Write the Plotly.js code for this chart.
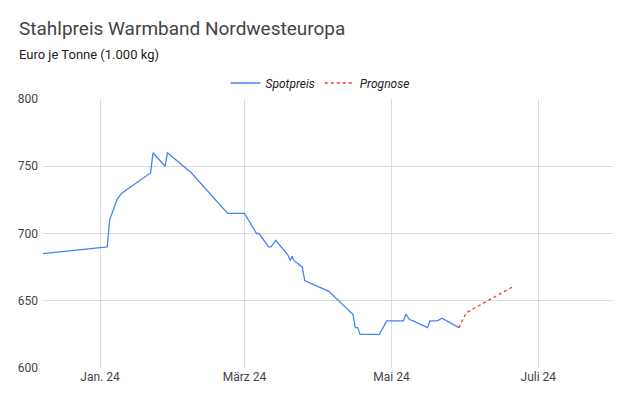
<!DOCTYPE html>
<html>
<head>
<meta charset="utf-8">
<script src="https://cdn.plot.ly/plotly-3.0.1.min.js"></script>
<style>html,body{margin:0;padding:0;background:#fff;}#chart{width:640px;height:396px;}</style>
</head>
<body>
<div id="chart"></div>
<script>
const spotDates = ['2023-12-08','2024-01-04','2024-01-05','2024-01-08','2024-01-10','2024-01-22','2024-01-23','2024-01-28','2024-01-29','2024-02-08','2024-02-23','2024-03-01','2024-03-06','2024-03-07','2024-03-11','2024-03-12','2024-03-14','2024-03-19','2024-03-20','2024-03-20 18:00','2024-03-21 12:00','2024-03-25','2024-03-26','2024-04-05','2024-04-15','2024-04-16','2024-04-17','2024-04-18','2024-04-26','2024-04-29','2024-05-06','2024-05-07','2024-05-08 12:00','2024-05-10','2024-05-16','2024-05-17','2024-05-20','2024-05-22','2024-05-29'];
const spotValues = [685,690,710,725,730,745,760,750,760,745,715,715,700,700,690,690,695,684,680,683,680,675,665,657,640,630,630,625,625,635,635,640,636,635,630,635,635,637,630];
const progDates = ['2024-05-29','2024-06-01','2024-06-10','2024-06-20'];
const progValues = [630,641,650,660];
const tickDates = ['2024-01-01','2024-03-01','2024-05-01','2024-07-01'];
const tickLabels = ['Jan. 24','März 24','Mai 24','Juli 24'];
const yTicks = [600,650,700,750,800];

const traces = [
  {x: spotDates, y: spotValues, name: 'Spotpreis', type: 'scatter', mode: 'lines',
   line: {color: '#4285f4', width: 1.3}},
  {x: progDates, y: progValues, name: 'Prognose', type: 'scatter', mode: 'lines',
   line: {color: '#ee3a2c', width: 1.3, dash: 'dot'}}
];
const layout = {
  width: 640, height: 396,
  margin: {l: 43, r: 27, t: 99, b: 28},
  paper_bgcolor: '#fff', plot_bgcolor: '#fff',
  font: {family: 'Roboto, Arial, sans-serif', size: 12, color: '#444'},
  showlegend: true,
  legend: {orientation: 'h', xref: 'container', x: 0.5, xanchor: 'center',
           yref: 'container', y: 1 - 83/396, yanchor: 'middle',
           font: {family: 'Roboto, Arial, sans-serif', size: 12, color: '#222', style: 'italic'},
           itemwidth: 30, tracegroupgap: 0},
  title: {text: 'Stahlpreis Warmband Nordwesteuropa', xref: 'container', x: 19/640, xanchor: 'left',
          yref: 'container', y: 1 - 28/396, yanchor: 'middle',
          font: {family: 'Roboto, Arial, sans-serif', size: 19, color: '#444'}},
  annotations: [{text: 'Euro je Tonne (1.000 kg)', xref: 'paper', yref: 'paper',
                 x: -26/570, xanchor: 'left', y: 1 + (99-55)/269, yanchor: 'middle', showarrow: false,
                 font: {family: 'Roboto, Arial, sans-serif', size: 13, color: '#222'}}],
  xaxis: {type: 'date', range: ['2023-12-08 08:00','2024-08-01'], tickvals: tickDates, ticktext: tickLabels,
          showgrid: true, gridcolor: '#dcdcdc', gridwidth: 1, zeroline: false, showline: false,
          ticks: '', tickfont: {size: 12, color: '#444'}, fixedrange: true},
  yaxis: {range: [600, 800], tickvals: yTicks, showgrid: true, gridcolor: '#dcdcdc', gridwidth: 1,
          zeroline: false, showline: false, ticks: '', ticklabelstandoff: 4,
          tickfont: {size: 12, color: '#444'}, fixedrange: true}
};
Plotly.newPlot('chart', traces, layout, {displayModeBar: false, staticPlot: true});
</script>
</body>
</html>
